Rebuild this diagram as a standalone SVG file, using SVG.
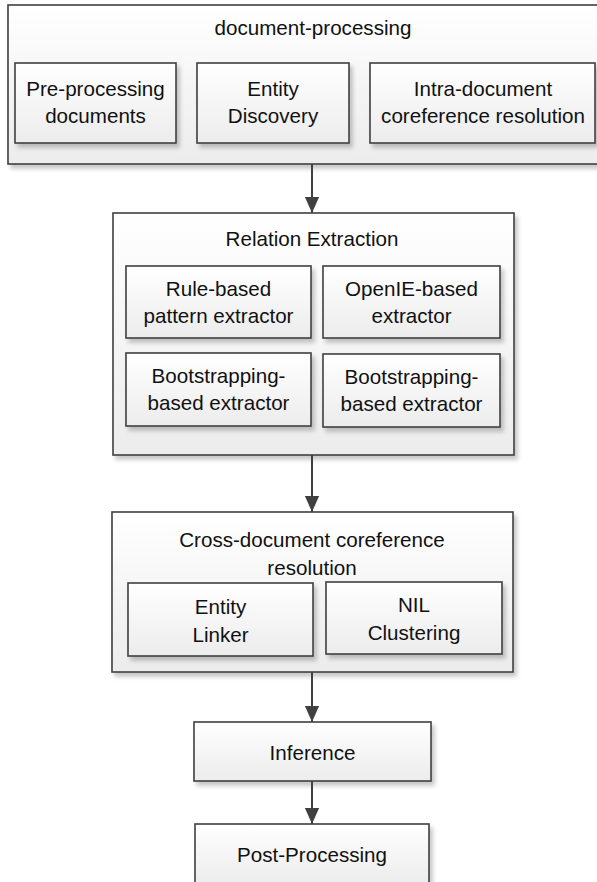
<svg xmlns="http://www.w3.org/2000/svg" width="597" height="882" viewBox="0 0 597 882">
<defs>
<linearGradient id="g" x1="0" y1="0" x2="0" y2="1">
<stop offset="0" stop-color="#ffffff"/>
<stop offset="1" stop-color="#ececec"/>
</linearGradient>
<filter id="sh" x="-10%" y="-10%" width="130%" height="130%">
<feDropShadow dx="3" dy="4" stdDeviation="2" flood-color="#000" flood-opacity="0.22"/>
</filter>
<marker id="ah" markerUnits="userSpaceOnUse" markerWidth="16" markerHeight="19" refX="18" refY="8" orient="auto" viewBox="0 0 18 16">
<path d="M0,0 L18,8 L0,16 Z" fill="#404040"/>
</marker>
<style>
.b{fill:url(#g);stroke:#404040;stroke-width:1.6;filter:url(#sh)}
.t{font-family:"Liberation Sans",Arial,sans-serif;font-size:20.6px;fill:#111;text-anchor:middle}
.c{stroke:#404040;stroke-width:2;fill:none;marker-end:url(#ah)}
</style>
</defs>
<g id="document-processing">
<rect class="b" x="8" y="5" width="610" height="159"/>
<text class="t" x="313" y="35">document-processing</text>
</g>
<g id="pre-processing">
<rect class="b" x="15" y="63" width="161" height="80"/>
<text class="t" x="95.5" y="96">Pre-processing</text>
<text class="t" x="95.5" y="123">documents</text>
</g>
<g id="entity-discovery">
<rect class="b" x="197" y="63" width="152" height="80"/>
<text class="t" x="273" y="96">Entity</text>
<text class="t" x="273" y="123">Discovery</text>
</g>
<g id="intra-doc">
<rect class="b" x="370" y="63" width="225" height="80"/>
<text class="t" x="483" y="96">Intra-document</text>
<text class="t" x="483" y="123">coreference resolution</text>
</g>
<g id="relation-extraction">
<rect class="b" x="113" y="213" width="401" height="242"/>
<text class="t" x="312" y="246">Relation Extraction</text>
</g>
<g id="rule-based">
<rect class="b" x="126" y="266" width="185" height="72"/>
<text class="t" x="218.5" y="296">Rule-based</text>
<text class="t" x="218.5" y="323">pattern extractor</text>
</g>
<g id="openie-based">
<rect class="b" x="323" y="266" width="177" height="72"/>
<text class="t" x="411.5" y="296">OpenIE-based</text>
<text class="t" x="411.5" y="323">extractor</text>
</g>
<g id="bootstrapping-1">
<rect class="b" x="126" y="353" width="185" height="73"/>
<text class="t" x="218.5" y="383">Bootstrapping-</text>
<text class="t" x="218.5" y="410">based extractor</text>
</g>
<g id="bootstrapping-2">
<rect class="b" x="323" y="354" width="177" height="73"/>
<text class="t" x="411.5" y="384">Bootstrapping-</text>
<text class="t" x="411.5" y="411">based extractor</text>
</g>
<g id="cross-document">
<rect class="b" x="112" y="512" width="401" height="160"/>
<text class="t" x="312" y="547">Cross-document coreference</text>
<text class="t" x="312" y="575">resolution</text>
</g>
<g id="entity-linker">
<rect class="b" x="128" y="583" width="185" height="73"/>
<text class="t" x="220.5" y="614">Entity</text>
<text class="t" x="220.5" y="642">Linker</text>
</g>
<g id="nil-clustering">
<rect class="b" x="326" y="582" width="176" height="72"/>
<text class="t" x="414" y="612">NIL</text>
<text class="t" x="414" y="640">Clustering</text>
</g>
<g id="inference">
<rect class="b" x="194" y="722" width="237" height="59"/>
<text class="t" x="312.5" y="760">Inference</text>
</g>
<g id="post-processing">
<rect class="b" x="195" y="824" width="234" height="60"/>
<text class="t" x="312" y="862">Post-Processing</text>
</g>
<g id="connectors">
<line class="c" x1="312" y1="164" x2="312" y2="213"/>
<line class="c" x1="312" y1="455" x2="312" y2="512"/>
<line class="c" x1="312" y1="672" x2="312" y2="722"/>
<line class="c" x1="312" y1="781" x2="312" y2="824"/>
</g>
</svg>
